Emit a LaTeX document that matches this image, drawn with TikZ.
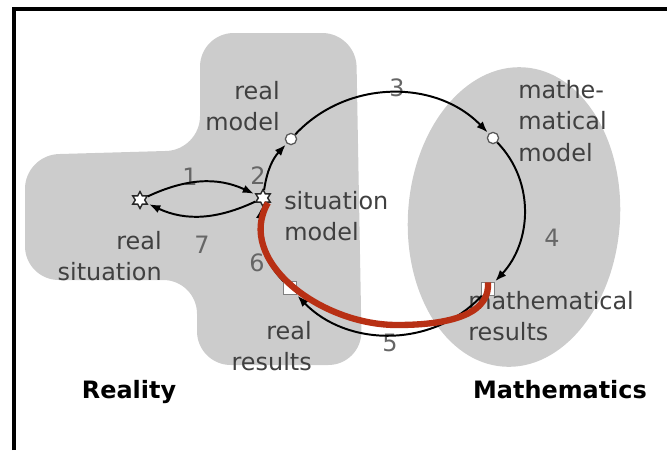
\documentclass[tikz,border=0pt]{standalone}
\usepackage{fontspec}
\setmainfont{DejaVu Sans}
\usepackage{xcolor}
\usetikzlibrary{arrows.meta,shapes.geometric}
\definecolor{blobgray}{RGB}{204,204,204}
\definecolor{cycred}{RGB}{184,48,20}

\begin{document}
\begin{tikzpicture}[
  x=0.025cm, y=0.025cm,
  font=\fontsize{17}{22.5}\selectfont,
  lbl/.style={inner sep=0pt, text=black!75},
  num/.style={inner sep=0pt, text=black!60},
  title/.style={inner sep=0pt, font=\fontsize{17}{22.5}\selectfont\bfseries},
  starnode/.style={star, star points=6, star point ratio=1.8, draw=black!85, fill=white, line width=1pt, minimum size=12pt, inner sep=0pt},
  dotnode/.style={circle, draw=black!65, fill=white, line width=0.9pt, minimum size=8pt, inner sep=0pt},
  boxnode/.style={rectangle, draw=black!50, fill=white, line width=0.6pt, minimum size=9pt, inner sep=0pt},
  cyc/.style={line width=1.4pt, -{Latex[length=8pt,width=6pt]}, shorten >=1pt},
]
\useasboundingbox (0,0) rectangle (667,-450);
% frame (cut at right and bottom)
\draw[line width=2.6pt] (14,-450) -- (14,-9) -- (667,-9);
% the two worlds
\fill[blobgray, rounded corners=24pt]
  (200,-150) -- (200,-33) -- (356,-33) -- (362,-365) -- (197,-365)
  -- (197,-280) -- (25,-280) -- (25,-155) -- cycle;
\fill[blobgray, rotate around={-4:(514,-217)}] (514,-217) ellipse [x radius=106, y radius=150];
% stations
\node[starnode] (rs) at (140,-200) {};
\node[starnode] (sm) at (263,-198) {};
\node[dotnode] (rm) at (291,-139) {};
\node[dotnode] (mm) at (493,-138) {};
\node[boxnode] (mr) at (488,-289) {};
\node[boxnode] (rr) at (290,-288) {};
% labels
\node[lbl, align=right, anchor=east] (rmL) at (280,-106) {real\\model};
\node[lbl, align=left, anchor=west] (mmL) at (518,-121) {mathe-\\matical\\model};
\node[lbl, align=left, anchor=west] (smL) at (284,-216) {situation\\model};
\node[lbl, align=right, anchor=east] (rsL) at (162,-256) {real\\situation};
\node[lbl, align=right, anchor=east] (rrL) at (312,-346) {real\\results};
\node[lbl, align=left, anchor=west] (mrL) at (468,-316) {mathematical\\results};
\node[title] (reality) at (129,-392) {Reality};
\node[title] (maths) at (560,-390) {Mathematics};
% step numbers
\foreach \n/\px/\py in {1/190/177,2/258/176,3/397/88,4/552/238,5/390/343,6/257/263,7/202/245}{
  \node[num] (n\n) at (\px,-\py) {\n};
}
% modelling cycle
\draw[cyc] (rs) to[out=25,in=155] (sm);
\draw[cyc] (sm) to[out=-155,in=-25] (rs);
\draw[cyc] (sm) to[out=82,in=227] (rm);
\draw[cyc] (rm) to[out=47,in=134] (mm);
\draw[cyc] (mm) to[out=-46,in=47] (mr);
\draw[cyc] (mr) to[out=-133,in=-46] (rr);
\draw[cyc] (rr) to[out=134,in=262] (sm);
% red route
\draw[cycred, line width=4.5pt]
  (sm.south east) .. controls (235,-260) and (320,-325) .. (397,-325)
  .. controls (460,-325) and (490,-310) .. (mr.north);
\end{tikzpicture}
\end{document}
